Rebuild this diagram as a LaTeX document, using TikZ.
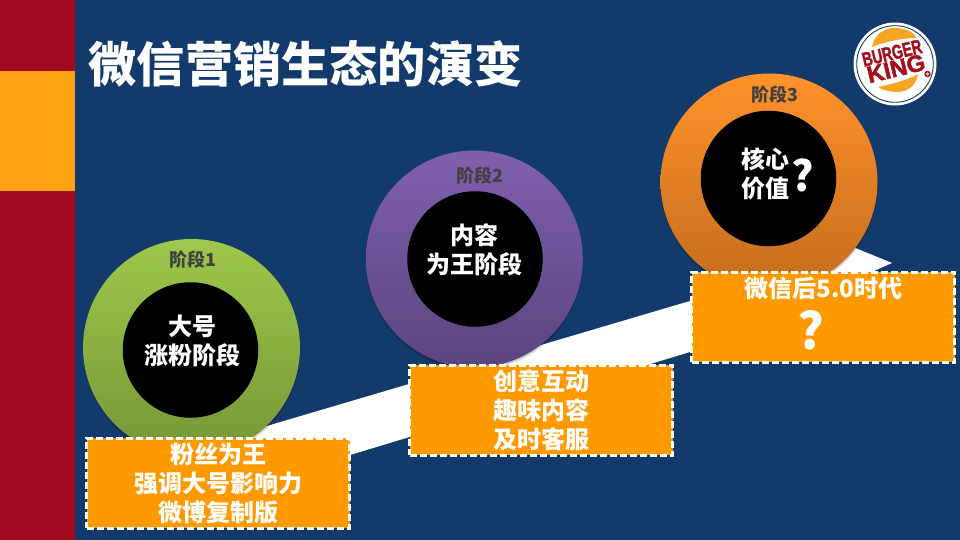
\documentclass[tikz,border=0pt]{standalone}
\usepackage{fontspec}
\setmainfont{Noto Sans CJK SC}
\newfontfamily\logofont[FakeBold=2]{Liberation Sans}
\definecolor{bgblue}{HTML}{123A6B}
\definecolor{barred}{HTML}{A20A20}
\definecolor{barorange}{HTML}{FCA311}
\definecolor{boxorange}{HTML}{FF9900}
\definecolor{labelgray}{HTML}{404040}
\definecolor{logored}{HTML}{A0101E}
\definecolor{logobun}{HTML}{F5A623}
\tikzset{
  ring/.style={circle,minimum size=217pt,inner sep=0pt,shading=axis,shading angle=0},
  hole/.style={circle,fill=black,minimum size=135.5pt,inner sep=0pt},
  holetext/.style={text=white,inner sep=0pt,align=center,font=\fontsize{24}{29}\selectfont\bfseries},
  stagelabel/.style={text=labelgray,font=\fontsize{18}{20}\selectfont\bfseries,inner sep=0pt},
  notebox/.style={rectangle,fill=boxorange,draw=white,line width=3pt,dash pattern=on 7pt off 3pt,minimum width=263pt,minimum height=90pt,inner sep=0pt,text=white,font=\fontsize{24}{29}\selectfont\bfseries,align=center},
  qmark/.style={text=white,inner sep=0pt,font=\fontsize{#1}{#1}\selectfont\bfseries}
}
\begin{document}
\begin{tikzpicture}[x=1pt,y=-1pt]
\useasboundingbox (0,0) rectangle (960,540);
\fill[bgblue] (0,0) rectangle (960,540);
\fill[barred] (0,0) rectangle (75,540);
\fill[barorange] (0,71) rectangle (75,191);
\node[text=white,anchor=west,inner sep=0pt,font=\fontsize{48.2}{50}\selectfont\bfseries] (title) at (88.5,64) {微信营销生态的演变};
% logo
\fill[white] (895,64) circle (41.5);
\draw[bgblue,line width=0.9pt] (895,64) circle (38.3);
\fill[logobun] (872,47) .. controls (874,34) and (885,28) .. (894,28) .. controls (904,28) and (914,31) .. (916,38) .. controls (902,38) and (884,42) .. cycle;
\fill[logobun] (878,87) .. controls (892,84) and (908,80) .. (918,74) .. controls (917,84) and (908,92) .. (898,92) .. controls (889,92) and (882,90) .. cycle;
\node[rotate=13.5,text=logored,inner sep=0pt,font=\logofont\fontsize{20}{20}\selectfont\bfseries] (burger) at (892,53) {\scalebox{0.7}[1]{BURGER}};
\node[rotate=13.5,text=logored,inner sep=0pt,font=\logofont\fontsize{23.5}{24}\selectfont\bfseries] (king) at (896,68.5) {KING};
\fill[logored] (927.5,74) circle (3.2);
\fill[white!75!logored] (927.5,74) circle (1.8);
% band
\fill[white] (250,431) -- (690,301) -- (740,262) -- (853,247) -- (892,263) -- (690,352) -- (360,452) -- (250,485) -- cycle;
% stages: soft shadows
\foreach \cx/\cy in {191.5/347.5,474.3/259,769/182} {
  \fill[black,opacity=.10] (\cx,\cy+3) circle (108.5);
  \fill[black,opacity=.12] (\cx,\cy+1.5) circle (108.5);
}
\node[ring,top color={rgb,255:red,158;green,200;blue,74},bottom color={rgb,255:red,118;green,150;blue,56}] (c1) at (191.5,347.5) {};
\node[ring,top color={rgb,255:red,128;green,96;blue,174},bottom color={rgb,255:red,90;green,68;blue,126}] (c2) at (474.3,259) {};
\node[ring,top color={rgb,255:red,255;green,146;blue,42},bottom color={rgb,255:red,196;green,108;blue,30}] (c3) at (769,182) {};
\node[hole] (h1) at (190.5,350) {};
\node[hole] (h2) at (475,259) {};
\node[hole] (h3) at (768.5,178.5) {};
\node[holetext] (h1t) at (192,340.5) {大号\\涨粉阶段};
\node[holetext] (h2t) at (474.5,250) {内容\\为王阶段};
\node[holetext] (h3t) at (765,174) {核心\\价值};
\node[qmark=42] (h3q) at (802.5,175) {?};
\node[stagelabel] (s1) at (193,259.5) {阶段1};
\node[stagelabel] (s2) at (480,175.5) {阶段2};
\node[stagelabel] (s3) at (775,94.5) {阶段3};
\node[notebox] (b1) at (218,483) {粉丝为王\\强调大号影响力\\微博复制版};
\node[notebox] (b2) at (541,410) {创意互动\\趣味内容\\及时客服};
\node[notebox] (b3) at (823,317) {};
\node[text=white,inner sep=0pt,font=\fontsize{24}{29}\selectfont\bfseries] (b3t) at (823.5,288.5) {微信后5.0时代};
\node[qmark=50] (b3q) at (810.5,330) {?};
\end{tikzpicture}
\end{document}
